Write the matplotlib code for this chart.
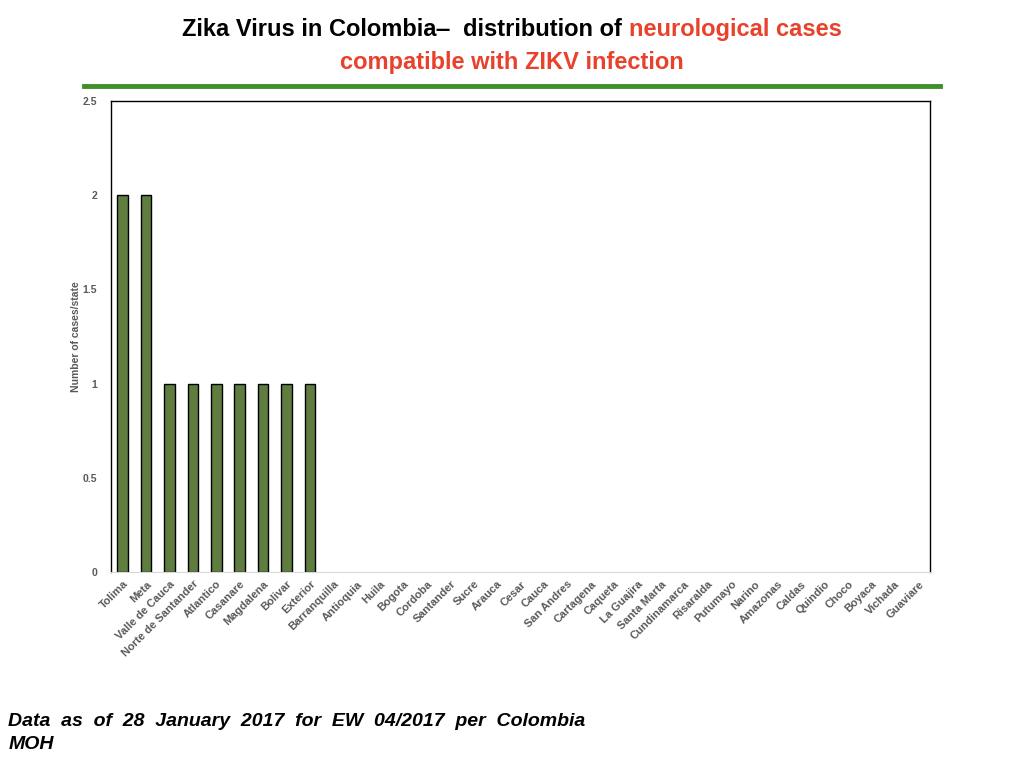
import matplotlib
matplotlib.use("Agg")
import matplotlib.pyplot as plt
from matplotlib.lines import Line2D

# departamentos con casi neurologici compatibili con ZIKV
stati = ["Tolima", "Meta", "Valle de Cauca", "Norte de Santander", "Atlantico",
         "Casanare", "Magdalena", "Bolivar", "Exterior", "Barranquilla",
         "Antioquia", "Huila", "Bogota", "Cordoba", "Santander", "Sucre",
         "Arauca", "Cesar", "Cauca", "San Andres", "Cartagena", "Caqueta",
         "La Guajira", "Santa Marta", "Cundinamarca", "Risaralda", "Putumayo",
         "Narino", "Amazonas", "Caldas", "Quindio", "Choco", "Boyaca",
         "Vichada", "Guaviare"]
casi = [2, 2, 1, 1, 1, 1, 1, 1, 1, 0, 0, 0, 0, 0, 0, 0, 0, 0, 0, 0, 0, 0,
        0, 0, 0, 0, 0, 0, 0, 0, 0, 0, 0, 0, 0]
yticks = [0, 0.5, 1, 1.5, 2, 2.5]

plt.rcParams['font.family'] = ['Liberation Sans', 'DejaVu Sans']

fig = plt.figure(figsize=(10.24, 7.68), dpi=100)
ax = fig.add_axes([0.1084, 0.2552, 0.7998, 0.6133])

x = list(range(len(stati)))
bordi = ["black" if v > 0 else "none" for v in casi]
ax.bar(x, casi, width=0.45, color="#5e7d3e", edgecolor=bordi, linewidth=1)

ax.set_xlim(-0.5, len(stati) - 0.5)
ax.set_ylim(0, 2.5)
ax.set_yticks(yticks)
ax.set_yticklabels(["0", "0.5", "1", "1.5", "2", "2.5"], fontsize=7.5,
                   fontweight="bold", color="#595959")
ax.set_xticks(x)
ax.set_xticklabels(stati, rotation=45, ha="right", rotation_mode="anchor",
                   fontsize=8, fontweight="bold", color="#595959")
ax.tick_params(axis="y", length=0, pad=10)
ax.tick_params(axis="x", length=0, pad=5)

for lato in ["left", "right", "top"]:
    ax.spines[lato].set_color("black")
    ax.spines[lato].set_linewidth(1)
ax.spines["bottom"].set_color("#d9d9d9")

ax.set_ylabel("Number of cases/state", fontsize=7.5, fontweight="bold",
              color="#595959", labelpad=1)

# titolo in due colori, centrato
W = 1024
t1 = fig.text(0, 0.961, "Zika Virus in Colombia\u2012  distribution of ",
              fontsize=17, fontweight="bold", color="black",
              ha="left", va="center")
t2 = fig.text(0, 0.961, "neurological cases", fontsize=17,
              fontweight="bold", color="#e8412c", ha="left", va="center")
fig.canvas.draw()
w1 = t1.get_window_extent().width / W
w2 = t2.get_window_extent().width / W
inizio = 0.5 - (w1 + w2) / 2
t1.set_x(inizio)
t2.set_x(inizio + w1)
fig.text(0.5, 0.919, "compatible with ZIKV infection", fontsize=17,
         fontweight="bold", color="#e8412c", ha="center", va="center")

# linea verde sotto il titolo
fig.add_artist(Line2D([0.082, 0.918], [0.888, 0.888], color="#3f8f2a",
                      linewidth=3.5, transform=fig.transFigure))

# nota in fondo
fig.text(0.008, 0.0456, "Data  as  of  28  January  2017  for  EW  04/2017  per  Colombia\nMOH",
         fontsize=14, fontweight="bold", style="italic", color="black",
         ha="left", va="center", linespacing=1.45)

plt.savefig("out.png", dpi=100)
